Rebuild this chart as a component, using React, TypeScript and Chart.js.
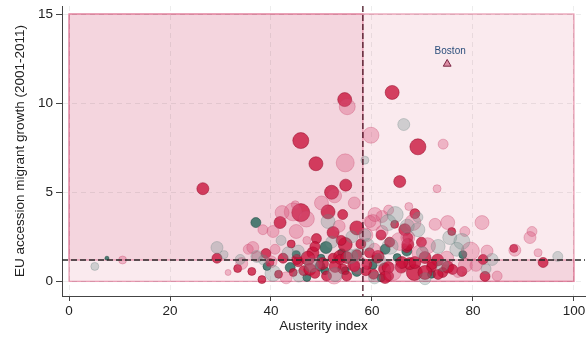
import React, { useEffect, useRef } from "react";
import { Chart, registerables } from "chart.js";

Chart.register(...registerables);

const xTicks = [0, 20, 40, 60, 80, 100];
const yTicks = [0, 5, 10, 15];
const xSplit = 58.2;
const ySplit = 1.2;
const regionX = [0, 100];
const regionY = [0, 15];

type P = [number, number, number];

const crimsonPoints: P[] = [
  [26.5, 5.2, 6], [45.9, 7.9, 8], [54.6, 10.2, 7], [64.0, 10.6, 7], [69.1, 7.55, 8],
  [48.9, 6.6, 7], [54.8, 5.4, 6], [52.0, 5.0, 7], [65.5, 5.6, 6], [45.9, 3.86, 9],
  [41.8, 3.3, 6], [51.3, 3.9, 7], [54.2, 3.75, 5], [57.0, 3.0, 7], [52.3, 2.74, 6],
  [54.7, 2.07, 7], [53.9, 2.3, 5], [48.3, 1.6, 6], [47.3, 1.3, 7], [57.0, 1.5, 5],
  [29.3, 1.3, 5], [33.4, 0.72, 4], [36.2, 0.56, 4], [39.0, 1.56, 5], [42.4, 1.3, 5],
  [44.4, 0.5, 4], [45.4, 1.1, 5], [50.2, 1.0, 6], [52.3, 1.3, 5], [53.6, 1.4, 6],
  [54.2, 0.7, 5], [56.4, 0.9, 6], [55.0, 0.3, 5], [46.5, 0.6, 5], [41.5, 0.4, 4],
  [64.5, 3.2, 4], [66.5, 2.9, 6], [67.1, 2.45, 5], [66.9, 1.9, 5], [59.5, 1.6, 5],
  [61.0, 1.3, 5], [60.3, 0.4, 5], [62.5, 0.7, 6], [63.3, 0.3, 5], [65.8, 0.8, 6],
  [68.4, 0.5, 8], [67.5, 1.0, 6], [70.5, 1.34, 6], [71.8, 0.8, 5], [73.0, 1.2, 6],
  [74.0, 0.5, 5], [75.0, 0.8, 6], [75.8, 2.8, 4], [82.0, 1.23, 5], [82.4, 0.28, 5],
  [88.1, 1.85, 4], [93.9, 1.06, 5], [58.8, 0.6, 5], [63.5, 2.2, 5], [68.5, 3.8, 5],
  [49.0, 2.4, 5], [44.0, 2.1, 4], [51.0, 0.3, 5], [57.8, 2.1, 5], [61.8, 2.6, 5],
  [38.2, 0.1, 4], [69.8, 2.2, 5], [48.7, 1.96, 5], [45.1, 1.23, 5], [52.7, 0.84, 6],
  [47.7, 0.67, 6], [48.7, 0.45, 5], [53.7, 1.23, 5], [55.0, 1.34, 6], [39.8, 1.06, 4],
  [56.6, 0.84, 5], [67.1, 2.07, 6], [59.0, 0.95, 5], [61.2, 1.4, 6], [63.2, 0.78, 6],
  [65.9, 1.06, 6], [68.5, 1.06, 6], [71.9, 0.95, 5], [73.1, 0.39, 5], [76.0, 0.67, 5],
  [70.5, 0.5, 7], [62.6, 0.22, 6], [77.8, 0.56, 5],
];

const pinkPoints: P[] = [
  [55.1, 9.8, 8], [59.8, 8.2, 8], [54.7, 6.65, 9], [74.1, 7.7, 5], [72.9, 5.2, 4],
  [67.3, 4.2, 4], [44.8, 4.3, 4], [44.4, 3.9, 9], [42.2, 3.86, 7], [38.4, 2.9, 5],
  [40.4, 2.8, 6], [35.5, 1.8, 5], [37.2, 1.4, 5], [31.5, 0.5, 3], [10.6, 1.2, 4],
  [40.8, 1.8, 5], [52.6, 4.8, 7], [60.2, 3.3, 8], [68.1, 3.3, 8], [65.5, 2.24, 9],
  [75.0, 3.3, 7], [78.4, 2.8, 5], [81.8, 3.3, 7], [82.8, 1.7, 6], [91.7, 2.8, 5],
  [91.3, 2.46, 6], [92.9, 1.6, 4], [88.3, 1.75, 6], [79.5, 1.7, 9], [80.6, 0.9, 6],
  [77.0, 0.5, 5], [71.0, 2.0, 8], [72.5, 3.2, 6], [62.0, 2.8, 6], [58.8, 2.6, 7],
  [56.5, 4.4, 6], [50.0, 4.4, 7], [47.0, 3.5, 8], [57.5, 0.9, 9], [48.5, 1.0, 8],
  [52.5, 0.3, 8], [43.0, 0.2, 6], [45.0, 2.8, 7], [40.0, 1.1, 6], [34.2, 1.0, 6],
  [64.2, 0.5, 8], [60.5, 1.8, 6], [69.5, 1.6, 8], [74.8, 1.3, 7], [78.5, 0.9, 7],
  [84.8, 0.3, 5], [53.5, 3.1, 6], [63.3, 4.0, 5], [47.1, 2.3, 4], [36.4, 1.9, 6],
  [59.6, 3.36, 6], [62.0, 3.64, 6], [67.1, 2.46, 7], [60.6, 3.75, 7],
];

const tealPoints: P[] = [
  [37.0, 3.3, 5], [50.9, 1.9, 6], [49.9, 1.3, 4], [49.7, 0.85, 5], [47.1, 0.22, 4],
  [50.7, 0.6, 4], [57.0, 0.56, 5], [39.2, 0.84, 4], [43.8, 0.78, 5], [7.5, 1.3, 2],
  [62.6, 1.8, 5], [65.0, 1.34, 4], [66.9, 1.7, 5], [78.0, 1.5, 4], [60.2, 0.9, 4],
  [61.8, 0.2, 4], [45.0, 1.5, 4], [71.8, 0.4, 4], [54.0, 1.6, 4], [54.7, 0.6, 4],
];

const greyPoints: P[] = [
  [66.3, 8.8, 6], [58.6, 6.8, 4], [5.1, 0.84, 4], [29.3, 1.9, 6], [30.7, 1.5, 4],
  [33.9, 1.23, 5], [40.4, 0.45, 8], [43.4, 1.6, 6], [45.4, 1.7, 6], [51.3, 3.36, 7],
  [64.6, 3.75, 8], [69.1, 3.6, 5], [63.6, 1.97, 8], [73.1, 1.96, 7], [75.4, 2.46, 7],
  [77.8, 2.24, 8], [83.8, 1.23, 6], [82.6, 0.7, 5], [96.8, 1.4, 5], [48.0, 0.9, 7],
  [55.8, 1.4, 7], [45.5, 0.3, 6], [60.5, 0.2, 6], [70.0, 1.6, 6], [52.0, 2.2, 6],
  [38.5, 1.2, 5], [58.6, 2.6, 6], [67.0, 3.1, 7], [61.5, 1.2, 6], [74.0, 0.9, 6],
  [42.0, 2.3, 5], [56.0, 2.5, 6], [37.2, 1.4, 6], [57.0, 1.5, 6], [52.7, 0.39, 7],
  [63.2, 3.3, 8], [69.1, 2.9, 7], [59.2, 2.07, 6], [76.8, 1.8, 7], [70.5, 0.15, 6],
];

const bostonX = 74.9;
const bostonY = 12.2;
const bostonLabel = "Boston";

const FONT = "'Liberation Sans', Arial, Helvetica, sans-serif";

const toData = (pts: P[]) => pts.map(([x, y, r]) => ({ x, y, r }));

const bgPlugin = {
  id: "bgRegions",
  beforeDraw(chart: any) {
    const { ctx, scales } = chart;
    const xs = scales.x, ys = scales.y;
    const px = (v: number) => xs.getPixelForValue(v);
    const py = (v: number) => ys.getPixelForValue(v);
    ctx.save();
    const x0 = px(regionX[0]), x1 = px(regionX[1]), xm = px(xSplit);
    const y0 = py(regionY[0]), y1 = py(regionY[1]), ym = py(ySplit);
    ctx.fillStyle = "#faeaee";
    ctx.fillRect(x0, y1, x1 - x0, y0 - y1);
    ctx.fillStyle = "#f4d5de";
    ctx.fillRect(x0, y1, xm - x0, ym - y1);
    ctx.fillRect(xm, ym, x1 - xm, y0 - ym);
    ctx.strokeStyle = "rgba(225,125,155,0.75)";
    ctx.lineWidth = 1.3;
    ctx.strokeRect(x0, y1, x1 - x0, y0 - y1);
    ctx.strokeRect(x0, y1, xm - x0, ym - y1);
    ctx.strokeRect(xm, ym, x1 - xm, y0 - ym);
    ctx.restore();
  },
  afterDatasetsDraw(chart: any) {
    const { ctx, scales, chartArea } = chart;
    const xs = scales.x, ys = scales.y;
    ctx.save();
    ctx.setLineDash([6, 3]);
    ctx.lineWidth = 1.3;
    ctx.strokeStyle = "#4a1424";
    const vx = xs.getPixelForValue(xSplit);
    ctx.beginPath();
    ctx.moveTo(vx, chartArea.top);
    ctx.lineTo(vx, chartArea.bottom);
    ctx.stroke();
    ctx.strokeStyle = "#2a2a2a";
    const hy = ys.getPixelForValue(ySplit);
    ctx.beginPath();
    ctx.moveTo(chartArea.left, hy);
    ctx.lineTo(chartArea.right, hy);
    ctx.stroke();
    ctx.setLineDash([]);
    ctx.fillStyle = "#2c4f7c";
    ctx.font = `10px ${FONT}`;
    ctx.textAlign = "center";
    ctx.textBaseline = "bottom";
    ctx.fillText(bostonLabel, xs.getPixelForValue(bostonX) + 3, ys.getPixelForValue(bostonY) - 8);
    ctx.restore();
  },
};

export default function App() {
  const ref = useRef<HTMLCanvasElement>(null);
  useEffect(() => {
    if (!ref.current) return;
    const chart = new Chart(ref.current, {
      type: "bubble",
      data: {
        datasets: [
          {
            label: "grey",
            data: toData(greyPoints),
            backgroundColor: "rgba(110,140,135,0.3)",
            borderColor: "rgba(100,130,125,0.3)",
            borderWidth: 1,
          },
          {
            label: "pink",
            data: toData(pinkPoints),
            backgroundColor: "rgba(215,80,120,0.35)",
            borderColor: "rgba(200,60,100,0.3)",
            borderWidth: 1,
          },
          {
            label: "crimson",
            data: toData(crimsonPoints),
            backgroundColor: "rgba(200,16,56,0.78)",
            borderColor: "rgba(150,10,40,0.5)",
            borderWidth: 1,
          },
          {
            label: "teal",
            data: toData(tealPoints),
            backgroundColor: "rgba(35,100,88,0.8)",
            borderColor: "rgba(20,70,60,0.5)",
            borderWidth: 1,
          },
          {
            type: "scatter" as any,
            label: "Boston",
            data: [{ x: bostonX, y: bostonY }],
            pointStyle: "triangle",
            radius: 4.5,
            backgroundColor: "rgba(205,90,125,0.65)",
            borderColor: "#7a2442",
            borderWidth: 1,
          } as any,
        ],
      },
      options: {
        responsive: false,
        animation: false,
        events: [],
        layout: { autoPadding: false, padding: { left: 0, right: 3, top: 6, bottom: 0 } },
        plugins: { legend: { display: false }, tooltip: { enabled: false } },
        scales: {
          x: {
            type: "linear",
            min: -1.4,
            max: 102.2,
            afterBuildTicks: (s: any) => {
              s.ticks = xTicks.map((v) => ({ value: v }));
            },
            afterFit: (s: any) => {
              s.height = 41;
              s.paddingLeft = 0;
              s.paddingRight = 0;
            },
            ticks: {
              color: "#222",
              font: { family: FONT, size: 13.5 },
              padding: 2,
              maxRotation: 0,
              autoSkip: false,
            },
            grid: { color: "rgba(0,0,0,0.07)", tickColor: "#444", tickLength: 5 },
            border: { display: true, color: "#444", width: 1, dash: [5, 4] },
            title: {
              display: true,
              text: "Austerity index",
              color: "#222",
              font: { family: FONT, size: 13.5 },
              padding: { top: 0, bottom: 3 },
            },
          },
          y: {
            type: "linear",
            min: -0.82,
            max: 15.45,
            afterBuildTicks: (s: any) => {
              s.ticks = yTicks.map((v) => ({ value: v }));
            },
            afterFit: (s: any) => {
              s.width = 62;
              s.paddingTop = 0;
              s.paddingBottom = 0;
            },
            ticks: {
              color: "#222",
              font: { family: FONT, size: 13.5 },
              padding: 3,
              autoSkip: false,
            },
            grid: { color: "rgba(0,0,0,0.07)", tickColor: "#444", tickLength: 6 },
            border: { display: true, color: "#444", width: 1, dash: [5, 4] },
            title: {
              display: true,
              text: "EU accession migrant growth (2001-2011)",
              color: "#222",
              font: { family: FONT, size: 13.5 },
              padding: { top: 12, bottom: 0 },
            },
          },
        },
      } as any,
      plugins: [bgPlugin],
    });
    return () => chart.destroy();
  }, []);
  return (
    <div style={{ position: "fixed", left: 0, top: 0, width: 588, height: 337, background: "#fff" }}>
      <canvas ref={ref} width={588} height={337} style={{ width: 588, height: 337 }} />
    </div>
  );
}
